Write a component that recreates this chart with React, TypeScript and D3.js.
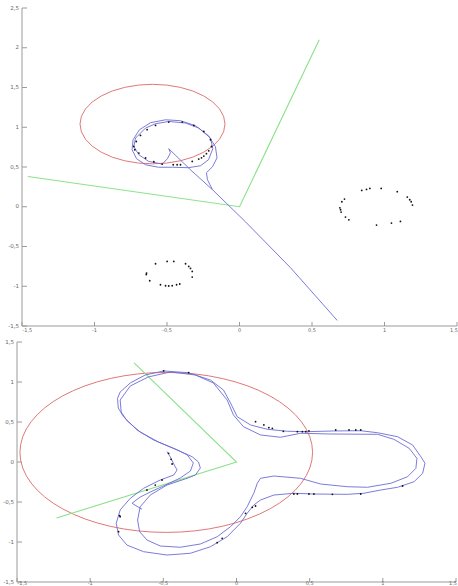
import React from "react";
import * as d3 from "d3";

type P = [number, number];

const W = 458;
const H = 586;

// ---------- tick values ----------
const topXTicks = [-1.5, -1, -0.5, 0, 0.5, 1, 1.5];
const topYTicks = [-1.5, -1, -0.5, 0, 0.5, 1, 1.5, 2, 2.5];
const bottomXTicks = [-1.5, -1, -0.5, 0, 0.5, 1, 1.5];
const bottomYTicks = [-1.5, -1, -0.5, 0, 0.5, 1, 1.5];

// ---------- top panel data ----------
const topRedCircle = [-0.6, 1.04, 0.5]; // cx, cy, r
const topGreen: P[] = [[0.55, 2.1], [0, 0], [-1.46, 0.38]];
const topBlue: P[] = [
  [-0.186, 0.214], [-0.221, 0.34], [-0.228, 0.428], [-0.186, 0.503], [-0.155, 0.616],
  [-0.166, 0.755], [-0.214, 0.893], [-0.303, 1.019], [-0.407, 1.082], [-0.51, 1.094],
  [-0.614, 1.057], [-0.69, 0.969], [-0.734, 0.843], [-0.741, 0.717], [-0.71, 0.604],
  [-0.648, 0.528], [-0.559, 0.497], [-0.462, 0.497], [-0.352, 0.491], [-0.269, 0.516],
  [-0.214, 0.591], [-0.184, 0.73], [-0.2, 0.864], [-0.281, 0.99], [-0.372, 1.053],
  [-0.488, 1.073], [-0.579, 1.044], [-0.648, 0.99], [-0.717, 0.864], [-0.729, 0.758],
  [-0.694, 0.654], [-0.626, 0.57], [-0.533, 0.537], [-0.497, 0.604], [-0.476, 0.679],
  [-0.488, 0.73], [-0.338, 0.465], [-0.186, 0.214], [0.041, -0.189], [0.352, -0.767],
  [0.674, -1.43],
];
const topDotsRing: P[] = [
  [-0.729, 0.758], [-0.722, 0.717], [-0.712, 0.821], [-0.683, 0.897], [-0.637, 0.969],
  [-0.579, 1.023], [-0.488, 1.065], [-0.395, 1.065], [-0.315, 1.023], [-0.246, 0.947],
  [-0.2, 0.843], [-0.193, 0.758], [-0.212, 0.704], [-0.228, 0.667], [-0.246, 0.638],
  [-0.262, 0.616], [-0.281, 0.6], [-0.326, 0.57], [-0.407, 0.528], [-0.43, 0.528],
  [-0.457, 0.528], [-0.533, 0.537], [-0.591, 0.566], [-0.648, 0.613], [-0.694, 0.675],
];
const topDotsRight: P[] = [
  [0.843, 0.205], [0.876, 0.218], [0.899, 0.23], [0.977, 0.23], [1.088, 0.189],
  [1.157, 0.122], [1.174, 0.088], [1.184, 0.063], [1.193, 0.021], [0.724, 0.097],
  [0.706, 0.063], [0.692, -0.013], [0.697, -0.038], [0.701, -0.067], [0.731, -0.13],
  [0.754, -0.164], [0.945, -0.23], [1.048, -0.205], [1.11, -0.185],
];
const topDotsLow: P[] = [
  [-0.579, -0.717], [-0.499, -0.688], [-0.453, -0.688], [-0.372, -0.717], [-0.35, -0.751],
  [-0.338, -0.776], [-0.326, -0.814], [-0.641, -0.834], [-0.643, -0.852], [-0.619, -0.931],
  [-0.545, -0.981], [-0.51, -0.994], [-0.488, -0.997], [-0.464, -0.994], [-0.434, -0.981],
  [-0.412, -0.972], [-0.326, -0.884],
];

// ---------- bottom panel data ----------
const bottomRedCircle = [-0.48, 0.12, 1.0];
const bottomGreen: P[] = [[-0.7, 1.24], [0, 0], [-1.23, -0.7]];
const bottomBlue: P[] = [
  [-0.475, 0.129], [-0.452, 0.063], [-0.425, -0.038], [-0.406, -0.1], [-0.429, -0.163],
  [-0.521, -0.225], [-0.635, -0.329], [-0.726, -0.454], [-0.795, -0.6], [-0.822, -0.766],
  [-0.806, -0.913], [-0.749, -1.038], [-0.635, -1.121], [-0.475, -1.163], [-0.315, -1.141],
  [-0.178, -1.059], [-0.064, -0.934], [0.027, -0.766], [0.073, -0.641], [0.118, -0.538],
  [0.164, -0.475], [0.255, -0.413], [0.392, -0.391], [0.527, -0.4], [0.758, -0.404],
  [0.87, -0.391], [0.986, -0.35], [1.101, -0.316], [1.214, -0.246], [1.272, -0.141],
  [1.288, -0.016], [1.26, 0.066], [1.203, 0.213], [1.101, 0.316], [0.964, 0.366],
  [0.849, 0.391], [0.664, 0.388], [0.484, 0.379], [0.347, 0.384], [0.21, 0.409],
  [0.096, 0.463], [0.005, 0.566], [-0.041, 0.738], [-0.089, 0.9], [-0.178, 1.025],
  [-0.329, 1.116], [-0.498, 1.138], [-0.623, 1.088], [-0.726, 0.988], [-0.795, 0.875],
  [-0.813, 0.796], [-0.808, 0.675], [-0.772, 0.566], [-0.68, 0.4], [-0.566, 0.275],
  [-0.406, 0.15], [-0.303, 0.066], [-0.26, 0.0], [-0.247, -0.075], [-0.281, -0.163],
  [-0.338, -0.204], [-0.475, -0.288], [-0.589, -0.413], [-0.658, -0.559], [-0.676, -0.725],
  [-0.662, -0.871], [-0.612, -0.975], [-0.521, -1.05], [-0.384, -1.066], [-0.247, -1.025],
  [-0.132, -0.934], [-0.041, -0.809], [0.027, -0.684], [0.073, -0.559], [0.118, -0.391],
  [0.142, -0.266], [0.164, -0.204], [0.255, -0.175], [0.438, -0.204], [0.575, -0.275],
  [0.758, -0.309], [0.895, -0.316], [1.055, -0.266], [1.169, -0.184], [1.226, -0.079],
  [1.233, 0.046], [1.18, 0.171], [1.075, 0.284], [0.964, 0.346], [0.644, 0.35],
  [0.438, 0.359], [0.301, 0.309], [0.164, 0.338], [0.048, 0.441], [-0.021, 0.588],
  [-0.064, 0.775], [-0.158, 0.988], [-0.281, 1.088], [-0.452, 1.125], [-0.603, 1.063],
  [-0.726, 0.95], [-0.795, 0.775], [-0.788, 0.625], [-0.747, 0.513], [-0.658, 0.375],
  [-0.534, 0.25], [-0.418, 0.163], [-0.336, 0.088], [-0.295, -0.013], [-0.315, -0.113],
  [-0.384, -0.2], [-0.5, -0.3], [-0.589, -0.375], [-0.658, -0.438], [-0.714, -0.516],
  [-0.646, -0.591],
];
const bottomDots: P[] = [
  [-0.498, 1.138], [-0.327, 1.116], [0.13, 0.504], [0.187, 0.463], [0.221, 0.429],
  [0.245, 0.421], [0.32, 0.384], [0.416, 0.379], [0.45, 0.379], [0.473, 0.379],
  [0.495, 0.388], [0.678, 0.4], [0.769, 0.4], [0.815, 0.4], [0.849, 0.4],
  [1.135, -0.3], [0.849, -0.4], [0.655, -0.404], [0.529, -0.4], [0.495, -0.4],
  [0.416, -0.4], [0.392, -0.4], [-0.509, -0.225], [-0.555, -0.288], [-0.612, -0.35],
  [-0.795, -0.684], [-0.806, -0.871], [-0.132, -1.009], [-0.098, -0.954], [0.062, -0.641],
  [0.108, -0.566], [0.13, -0.55], [-0.464, 0.109], [-0.447, 0.034], [-0.44, -0.025],
  [-0.799, -0.671],
];

const fmt = (v: number) => String(v).replace(".", ",");

const RED = "#e07878";
const GREEN = "#8ae28a";
const BLUE = "#6c6cd6";

type PanelProps = {
  x: d3.ScaleLinear<number, number>;
  y: d3.ScaleLinear<number, number>;
  xTicks: number[];
  yTicks: number[];
  circle: number[];
  green: P[];
  blue: P[];
  dots: P[][];
  labelGap: number;
};

function Panel({ x, y, xTicks, yTicks, circle, green, blue, dots, labelGap }: PanelProps) {
  const line = d3
    .line<P>()
    .x((d) => x(d[0]))
    .y((d) => y(d[1]));
  const [x0, x1] = x.range();
  const [yb, yt] = y.range();
  const [cx, cy, r] = circle;
  const last = xTicks.length - 1;
  return (
    <g>
      <line x1={x0} y1={yt} x2={x0} y2={yb} stroke="#9a9a9a" strokeWidth={1} />
      <line x1={x0} y1={yb} x2={x1} y2={yb} stroke="#9a9a9a" strokeWidth={1} />
      {yTicks.map((t) => (
        <g key={"y" + t}>
          <line x1={x0} x2={x0 + 5} y1={y(t)} y2={y(t)} stroke="#9a9a9a" strokeWidth={1} />
          <text
            x={x0 - 3}
            y={y(t)}
            fontSize={5.5}
            fontFamily="DejaVu Sans"
            fill="#666"
            textAnchor="end"
            dominantBaseline="middle"
          >
            {fmt(t)}
          </text>
        </g>
      ))}
      {xTicks.map((t, i) => (
        <g key={"x" + t}>
          <line x1={x(t)} x2={x(t)} y1={yb} y2={yb - 4} stroke="#9a9a9a" strokeWidth={1} />
          <text
            x={i === last ? x(t) + 1 : i === 0 ? x(t) + 0.5 : x(t)}
            y={yb + labelGap}
            fontSize={5}
            fontFamily="DejaVu Sans"
            fill="#666"
            textAnchor={i === last ? "end" : i === 0 ? "start" : "middle"}
          >
            {fmt(t)}
          </text>
        </g>
      ))}
      <ellipse
        cx={x(cx)}
        cy={y(cy)}
        rx={x(cx + r) - x(cx)}
        ry={y(cy) - y(cy + r)}
        fill="none"
        stroke={RED}
        strokeWidth={1}
      />
      <path d={line(green) || ""} fill="none" stroke={GREEN} strokeWidth={1.1} />
      <path d={line(blue) || ""} fill="none" stroke={BLUE} strokeWidth={0.9} strokeLinejoin="round" />
      {dots.flat().map((d, i) => (
        <circle key={i} cx={x(d[0])} cy={y(d[1])} r={0.9} fill="#111" />
      ))}
    </g>
  );
}

export default function App() {
  const xTop = d3.scaleLinear().domain([-1.5, 1.5]).range([22, 457]);
  const yTop = d3.scaleLinear().domain([-1.5, 2.5]).range([326, 8]);
  const xBot = d3.scaleLinear().domain([-1.5, 1.5]).range([17, 456]);
  const yBot = d3.scaleLinear().domain([-1.5, 1.5]).range([582, 342]);
  return (
    <svg
      width={W}
      height={H}
      style={{ position: "absolute", left: 0, top: 0, background: "#fff" }}
    >
      <rect x={0} y={0} width={W} height={H} fill="#fff" />
      <Panel
        x={xTop}
        y={yTop}
        xTicks={topXTicks}
        yTicks={topYTicks}
        circle={topRedCircle}
        green={topGreen}
        blue={topBlue}
        dots={[topDotsRing, topDotsRight, topDotsLow]}
        labelGap={6}
      />
      <Panel
        x={xBot}
        y={yBot}
        xTicks={bottomXTicks}
        yTicks={bottomYTicks}
        circle={bottomRedCircle}
        green={bottomGreen}
        blue={bottomBlue}
        dots={[bottomDots]}
        labelGap={3.2}
      />
    </svg>
  );
}
